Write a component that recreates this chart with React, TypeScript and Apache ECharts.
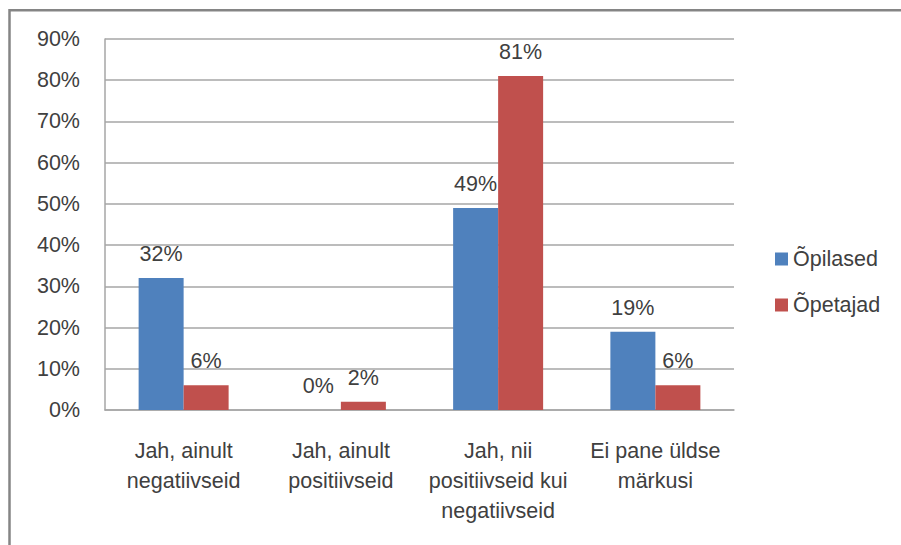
import React, { useEffect, useRef } from "react";
import * as echarts from "echarts";

const categories = [
  "Jah, ainult\nnegatiivseid",
  "Jah, ainult\npositiivseid",
  "Jah, nii\npositiivseid kui\nnegatiivseid",
  "Ei pane üldse\nmärkusi",
];
const seriesNames = ["Õpilased", "Õpetajad"];
const opilased = [32, 0, 49, 19];
const opetajad = [6, 2, 81, 6];
const yMax = 90;
const yStep = 10;

const FONT = "'Liberation Sans', Arial, sans-serif";
const TEXT = "#404040";
const FS = 21.5;

export default function App() {
  const ref = useRef<HTMLDivElement>(null);
  useEffect(() => {
    if (!ref.current) return;
    const chart = echarts.init(ref.current, null, { renderer: "svg" });
    const label = {
      show: true,
      position: "top",
      distance: 13,
      formatter: "{c}%",
      color: TEXT,
      fontSize: FS,
      fontFamily: FONT,
    };
    chart.setOption({
      animation: false,
      backgroundColor: "#ffffff",
      textStyle: { fontFamily: FONT },
      grid: { left: 105, top: 39, right: 167, bottom: 135 },
      legend: {
        orient: "vertical",
        left: 770,
        top: 242,
        itemWidth: 13,
        itemHeight: 13,
        itemGap: 22,
        icon: "rect",
        textStyle: { color: TEXT, fontSize: FS, fontFamily: FONT, lineHeight: 24 },
        data: seriesNames,
      },
      xAxis: {
        type: "category",
        data: categories,
        axisLine: { lineStyle: { color: "#a6a6a6", width: 1.5 } },
        axisTick: { show: false },
        axisLabel: {
          color: TEXT,
          fontSize: FS,
          fontFamily: FONT,
          lineHeight: 30,
          margin: 26,
          interval: 0,
        },
      },
      yAxis: {
        type: "value",
        min: 0,
        max: yMax,
        interval: yStep,
        axisLine: { show: true, lineStyle: { color: "#a6a6a6", width: 1.5 } },
        axisTick: { show: false },
        splitLine: { lineStyle: { color: "#a6a6a6", width: 1.5 } },
        axisLabel: {
          color: TEXT,
          fontSize: FS,
          fontFamily: FONT,
          margin: 25,
          formatter: "{value}%",
        },
      },
      series: [
        {
          name: seriesNames[0],
          type: "bar",
          data: opilased,
          barWidth: 45,
          barGap: "0%",
          itemStyle: { color: "#4f81bd" },
          label,
        },
        {
          name: seriesNames[1],
          type: "bar",
          data: opetajad,
          barWidth: 45,
          barGap: "0%",
          itemStyle: { color: "#c0504d" },
          label,
        },
      ],
      graphic: [
        {
          type: "rect",
          silent: true,
          shape: { x: 9.5, y: 10.3, width: 1000, height: 1000 },
          style: { fill: "none", stroke: "#858585", lineWidth: 2.5 },
        },
      ],
    });
    return () => chart.dispose();
  }, []);
  return (
    <div
      ref={ref}
      style={{ position: "absolute", left: 0, top: 0, width: 901, height: 545 }}
    />
  );
}
